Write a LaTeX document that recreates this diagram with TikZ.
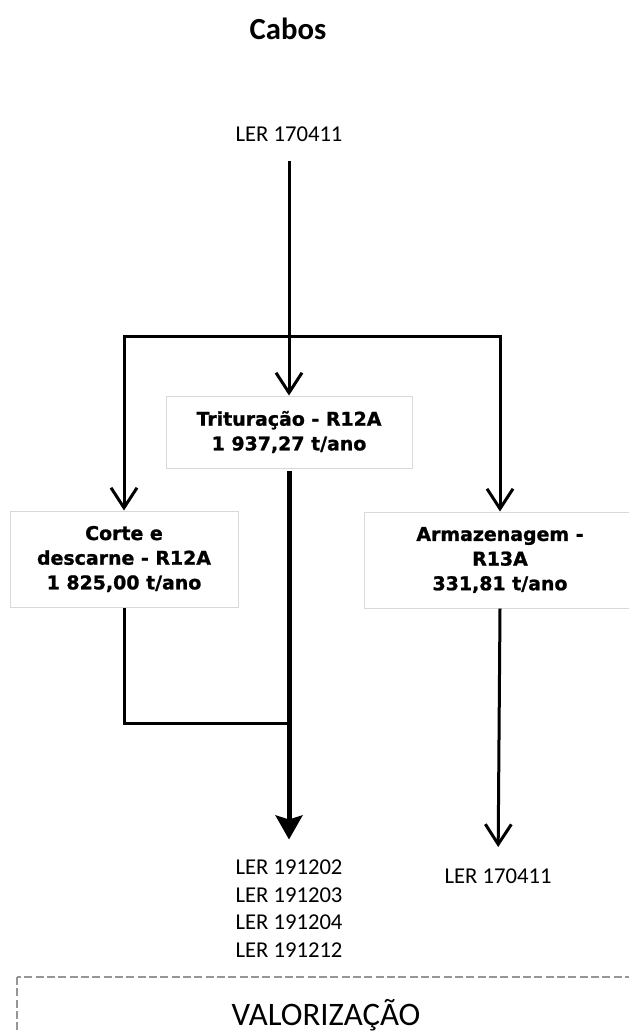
\documentclass[tikz,border=0pt]{standalone}
\usepackage{fontspec}
\setmainfont{Carlito}
\newfontfamily\boxfont[BoldFeatures={FakeBold=1.2}]{DejaVu Sans}
\usetikzlibrary{arrows.meta}
\definecolor{boxline}{RGB}{217,217,217}
\definecolor{dashline}{RGB}{150,150,150}

\begin{document}
\begin{tikzpicture}[x=0.75pt,y=-0.75pt,
  flow/.style={line width=2.25pt,-{Straight Barb[length=15pt,width=19.5pt]}},
  plainflow/.style={line width=2.25pt},
  heavyflow/.style={line width=3.75pt,-{Stealth[length=18pt,width=20pt,inset=3pt]}},
  procbox/.style={draw=boxline,line width=0.75pt,align=center,inner sep=0pt,
    font=\boxfont\bfseries\fontsize{14.2}{18.5}\selectfont},
  lertext/.style={inner sep=0pt,align=center,font=\fontsize{17}{20.8}\selectfont},
  dashbox/.style={draw=dashline,line width=1.5pt,dash pattern=on 6pt off 2.5pt}]
\useasboundingbox (0,0) rectangle (628,1034);

% title and input
\node [anchor=base,font=\bfseries\fontsize{23}{28}\selectfont] (title) at (288,40) {Cabos};
\node [lertext,anchor=north] (lerin) at (289,126.5) {LER 170411};

% operations
\node [procbox,minimum width=184.5pt,minimum height=54pt] (trit) at (289,432) {Trituração - R12A\\1 937,27 t/ano};
\node [procbox,minimum width=171pt,minimum height=72pt] (corte) at (124,559) {Corte e\\descarne - R12A\\1 825,00 t/ano};
\node [procbox,minimum width=204pt,minimum height=72pt] (armaz) at (500,560) {Armazenagem -\\R13A\\331,81 t/ano};

% outputs
\node [lertext,anchor=north] (outa) at (289,859.5) {LER 191202\\LER 191203\\LER 191204\\LER 191212};
\node [lertext,anchor=north] (outb) at (498,869) {LER 170411};

% destination
\draw [dashbox] (17,977) rectangle (640,1070);
\node [anchor=base,font=\fontsize{24.6}{30}\selectfont] (valor) at (326,1025) {VALORIZAÇÃO};

\coordinate (split) at (289,336);
\coordinate (merge) at (289,723);

% connectors
\draw [flow,shorten <=14pt] (lerin.south) -- (trit.north);
\draw [flow] (split) -| (corte.north);
\draw [flow] (split) -| (armaz.north);
\draw [heavyflow,shorten <=1.5pt,shorten >=15pt] (trit.south) -- (outa.north);
\draw [plainflow] (corte.south) |- (merge);
\draw [flow,shorten >=16.5pt] (armaz.south) -- (outb.north);

\end{tikzpicture}
\end{document}
